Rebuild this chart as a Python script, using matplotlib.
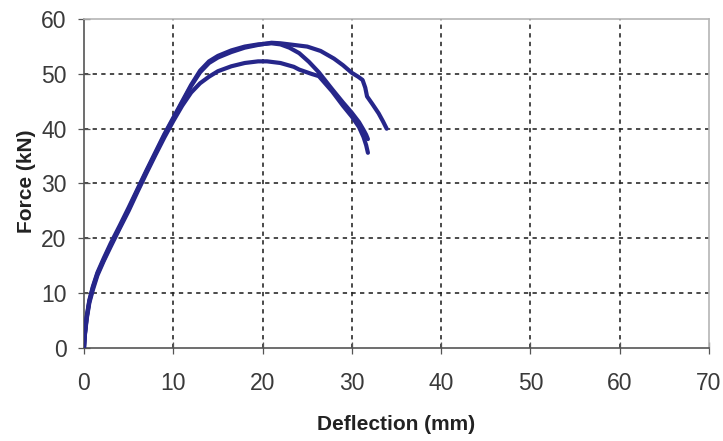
import matplotlib
matplotlib.use("Agg")
import matplotlib.pyplot as plt

# ---- data ----
x_ticks = [0, 10, 20, 30, 40, 50, 60, 70]
y_ticks = [0, 10, 20, 30, 40, 50, 60]

defl_a = [0, 0.1, 0.3, 0.6, 1.0, 1.5, 2.2, 3.0, 4.0, 5.0, 6.0, 7.0, 8.0, 9.0,
          10.0, 11.0, 12.0, 13.0, 14.0, 15.0, 16.5, 18.0, 19.5, 21.0, 22.0,
          23.5, 25.0, 26.5, 28.0, 29.0, 30.0, 30.7, 31.2, 31.5, 31.7, 32.3,
          33.0, 33.5, 33.9]
force_a = [0, 2.5, 5.5, 8.5, 11.0, 13.5, 16.0, 18.8, 22.0, 25.3, 28.8, 32.2,
           35.5, 38.8, 41.8, 44.8, 47.8, 50.3, 52.0, 53.0, 54.0, 54.8, 55.3,
           55.7, 55.6, 55.3, 55.0, 54.2, 52.8, 51.6, 50.2, 49.5, 48.9, 47.5,
           45.9, 44.5, 42.8, 41.3, 40.0]

defl_b = [0, 0.1, 0.3, 0.6, 1.0, 1.5, 2.2, 3.0, 4.0, 5.0, 6.0, 7.0, 8.0, 9.0,
          10.0, 11.0, 12.0, 13.0, 14.0, 15.0, 16.5, 18.0, 19.5, 21.0, 22.0,
          23.0, 24.1, 25.2, 26.3, 27.8, 29.0, 30.0, 30.8, 31.3, 31.6, 31.8]
force_b = [0, 2.6, 5.7, 8.7, 11.2, 13.7, 16.3, 19.1, 22.3, 25.6, 29.0, 32.4,
           35.7, 39.0, 42.0, 45.0, 48.0, 50.6, 52.3, 53.3, 54.3, 55.0, 55.4,
           55.6, 55.4, 54.8, 53.8, 52.2, 50.3, 47.2, 44.8, 42.9, 41.2, 39.8,
           38.9, 38.1]

defl_c = [0, 0.1, 0.3, 0.6, 1.0, 1.5, 2.2, 3.0, 4.0, 5.0, 6.0, 7.0, 8.0, 9.0,
          10.0, 11.0, 12.0, 13.0, 14.0, 15.0, 16.5, 18.0, 19.5, 20.5, 22.0,
          23.5, 24.1, 25.5, 26.3, 27.8, 29.0, 30.0, 30.8, 31.3, 31.6, 31.8]
force_c = [0, 2.3, 5.2, 8.2, 10.6, 13.2, 15.8, 18.5, 21.8, 25.0, 28.5, 31.9,
           35.2, 38.4, 41.4, 44.2, 46.6, 48.3, 49.5, 50.5, 51.4, 52.0, 52.3,
           52.3, 52.0, 51.3, 50.8, 50.0, 49.6, 46.8, 44.2, 42.2, 40.3, 38.5,
           37.0, 35.6]

series = [(defl_a, force_a), (defl_b, force_b), (defl_c, force_c)]

plt.rcParams['font.family'] = ['Liberation Sans', 'DejaVu Sans']

fig = plt.figure(figsize=(7.23, 4.41), dpi=100)
ax = fig.add_axes([84 / 723, 1 - 347.7 / 441, (709 - 84) / 723, (347.7 - 19.2) / 441])

line_color = '#26268a'
for xs, ys in series:
    ax.plot(xs, ys, color=line_color, lw=3.0, solid_capstyle='round',
            solid_joinstyle='round', zorder=3)

ax.set_xlim(0, 70)
ax.set_ylim(0, 60)
ax.set_xticks(x_ticks)
ax.set_yticks(y_ticks)

ax.grid(True, color='#222222', lw=1.15, linestyle=(0, (2.7, 2.7)))
for gl in (ax.xaxis.get_gridlines()[0], ax.xaxis.get_gridlines()[-1],
           ax.yaxis.get_gridlines()[0], ax.yaxis.get_gridlines()[-1]):
    gl.set_visible(False)

for s in ('left', 'bottom'):
    ax.spines[s].set_color('#555555')
    ax.spines[s].set_linewidth(1.2)
for s in ('top', 'right'):
    ax.spines[s].set_color('#b5b5b5')
    ax.spines[s].set_linewidth(1.2)

tick_font = {'family': ['Liberation Sans Narrow', 'Liberation Sans', 'DejaVu Sans'],
             'size': 16.5}
ax.tick_params(axis='both', direction='inout', length=9, width=0.9,
               color='#555555', labelcolor='#3a3a3a')
ax.tick_params(axis='x', pad=13)
ax.tick_params(axis='y', pad=8)
for lab in ax.get_xticklabels() + ax.get_yticklabels():
    lab.set_fontfamily(tick_font['family'])
    lab.set_fontsize(tick_font['size'])

fig.text(396 / 723, 1 - 425 / 441, 'Deflection (mm)', ha='center', va='center',
         fontsize=15, fontweight='bold', color='#222222')
fig.text(27 / 723, 1 - 181 / 441, 'Force (kN)', ha='center', va='center',
         rotation=90, fontsize=15, fontweight='bold', color='#222222')

fig.savefig('out.png', dpi=100)
